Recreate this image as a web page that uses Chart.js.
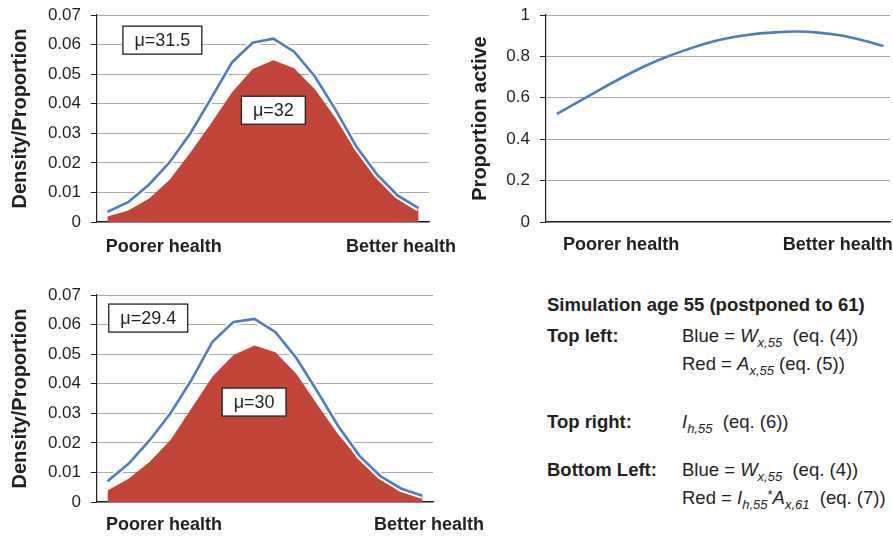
<!DOCTYPE html>
<html>
<head>
<meta charset="utf-8">
<script src="https://cdn.jsdelivr.net/npm/chart.js@4.4.1/dist/chart.umd.min.js"></script>
<style>
  body { margin: 0; background: #fff; width: 893px; height: 537px; position: relative; overflow: hidden;
         font-family: "Liberation Sans", Arial, sans-serif; color: #231f20; }
  canvas { position: absolute; }
  .note { position: absolute; font-size: 18.5px; line-height: 16px; white-space: nowrap; }
  .b { font-weight: bold; }
  .note i { font-style: italic; }
  .note sub { font-size: 13px; font-style: italic; vertical-align: -5px; line-height: 0; }
  .note sup { font-size: 13px; vertical-align: 5px; line-height: 0; }
</style>
</head>
<body>
<canvas id="topLeft" width="460" height="260" style="left:0;top:0"></canvas>
<canvas id="topRight" width="433" height="260" style="left:460px;top:0"></canvas>
<canvas id="bottomLeft" width="500" height="257" style="left:0;top:280px"></canvas>

<div class="note b" style="left:547px;top:297px">Simulation age 55 (postponed to 61)</div>
<div class="note b" style="left:547px;top:328px">Top left:</div>
<div class="note" style="left:682px;top:328px">Blue = <i>W</i><sub>x,55</sub>&nbsp; (eq. (4))</div>
<div class="note" style="left:682px;top:356px">Red = <i>A</i><sub>x,55</sub> (eq. (5))</div>
<div class="note b" style="left:547px;top:414px">Top right:</div>
<div class="note" style="left:682px;top:414px"><i>I</i><sub>h,55</sub>&nbsp; (eq. (6))</div>
<div class="note b" style="left:547px;top:462px">Bottom Left:</div>
<div class="note" style="left:682px;top:462px">Blue = <i>W</i><sub>x,55</sub>&nbsp; (eq. (4))</div>
<div class="note" style="left:682px;top:490px">Red = <i>I</i><sub>h,55</sub><sup>*</sup><i>A</i><sub>x,61</sub>&nbsp; (eq. (7))</div>

<script>
// health bins (poorer -> better)
const bins = [0, 1, 2, 3, 4, 5, 6, 7, 8, 9, 10, 11, 12, 13, 14, 15]
const xEndLabels = ['Poorer health', 'Better health']

// top left: W_x,55 (blue) and A_x,55 (red)
const wTop = [0.0034, 0.0067, 0.0126, 0.0202, 0.0300, 0.0418, 0.0539, 0.0606, 0.0620, 0.0576, 0.0492, 0.0379, 0.0255, 0.0160, 0.0089, 0.0047]
const aTop = [0.0019, 0.0039, 0.0079, 0.0143, 0.0235, 0.0334, 0.0438, 0.0517, 0.0547, 0.0520, 0.0449, 0.0351, 0.0238, 0.0148, 0.0084, 0.0042]

// top right: I_h,55
const iTop = [0.522, 0.582, 0.641, 0.698, 0.751, 0.796, 0.834, 0.867, 0.891, 0.907, 0.916, 0.920, 0.915, 0.902, 0.879, 0.850]

// bottom left: W_x,55 (blue) and I_h,55*A_x,61 (red)
const wBottom = [0.0070, 0.0129, 0.0208, 0.0300, 0.0413, 0.0542, 0.0609, 0.0619, 0.0574, 0.0486, 0.0373, 0.0255, 0.0156, 0.0087, 0.0045, 0.0021]
const aBottom = [0.0039, 0.0079, 0.0135, 0.0210, 0.0317, 0.0424, 0.0497, 0.0529, 0.0506, 0.0433, 0.0328, 0.0227, 0.0143, 0.0084, 0.0045, 0.0019]

const FONT = '"Liberation Sans", Arial, sans-serif'
const INK = '#231f20'
const BLUE = '#4f7bc0'
const RED = '#c2453a'
const GRID = '#a7a9ac'

// white boxes with the mean in them
const muBoxes = {
    id: 'muBoxes',
    afterDatasetsDraw(chart, args, opts) {
        const ctx = chart.ctx
        const x = chart.scales.x, y = chart.scales.y
        ;(opts.boxes || []).forEach(function (b) {
            ctx.save()
            ctx.font = '18px ' + FONT
            const w = ctx.measureText(b.text).width + 23
            const h = 28
            const cx = x.getPixelForValue(b.x)
            const cy = y.getPixelForValue(b.y)
            ctx.fillStyle = '#fff'
            ctx.fillRect(cx - w / 2, cy - h / 2, w, h)
            ctx.strokeStyle = INK
            ctx.lineWidth = 1.3
            ctx.strokeRect(cx - w / 2, cy - h / 2, w, h)
            ctx.fillStyle = INK
            ctx.textAlign = 'center'
            ctx.textBaseline = 'middle'
            ctx.fillText(b.text, cx, cy + 1)
            ctx.restore()
        })
    }
}

function yAxis(max, step, width, title, fmt) {
    return {
        min: 0, max: max,
        ticks: { stepSize: step, color: INK, font: { family: FONT, size: 17 }, padding: 10, callback: fmt },
        grid: { color: GRID, tickColor: INK, tickLength: 6, lineWidth: 1 },
        border: { color: INK, width: 1.2 },
        title: { display: true, text: title, color: INK, font: { family: FONT, size: 20, weight: 'bold' }, padding: { top: 8, bottom: 4 } },
        afterFit: function (s) { s.width = width; s.paddingTop = 0; s.paddingBottom = 0 }
    }
}

function xAxis(max, tickAt, height, pad) {
    return {
        type: 'linear', min: -0.5, max: max,
        grid: { display: false, drawTicks: false },
        border: { color: INK, width: 1.2 },
        ticks: {
            color: INK, font: { family: FONT, size: 18, weight: 'bold' }, padding: pad,
            maxRotation: 0, autoSkip: false,
            callback: function (v, i) { return xEndLabels[i] }
        },
        afterBuildTicks: function (s) { s.ticks = tickAt.map(function (v) { return { value: v } }) },
        afterFit: function (s) { s.height = height; s.paddingLeft = 0; s.paddingRight = 0 }
    }
}

const densFmt = function (v) { return v === 0 ? '0' : v.toFixed(2) }

function densityChart(id, blue, red, boxes, tickAt, xH, pad, padRight) {
    return new Chart(document.getElementById(id), {
        type: 'line',
        data: {
            labels: bins,
            datasets: [
                { data: blue, borderColor: BLUE, borderWidth: 2.6, pointRadius: 0, fill: false, tension: 0 },
                { data: blue, borderColor: '#fff', borderWidth: 6.5, pointRadius: 0, fill: false, tension: 0 },
                { data: red, borderWidth: 0, backgroundColor: RED, borderColor: RED, pointRadius: 0, fill: 'origin', tension: 0 }
            ]
        },
        options: {
            responsive: false, animation: false,
            layout: { padding: { top: 15, right: padRight, left: 0, bottom: 0 } },
            plugins: { legend: { display: false }, tooltip: { enabled: false }, muBoxes: { boxes: boxes } },
            scales: {
                x: xAxis(15.5, tickAt, xH, pad),
                y: yAxis(0.07, 0.01, 97, 'Density/Proportion', densFmt)
            }
        },
        plugins: [muBoxes]
    })
}

densityChart('topLeft', wTop, aTop,
    [{ text: 'μ=31.5', x: 2.65, y: 0.0615 }, { text: 'μ=32', x: 8.0, y: 0.0378 }],
    [2.72, 14.15], 38, 14, 31)

densityChart('bottomLeft', wBottom, aBottom,
    [{ text: 'μ=29.4', x: 1.94, y: 0.0622 }, { text: 'μ=30', x: 6.98, y: 0.0338 }],
    [2.69, 15.31], 35, 12, 67)

new Chart(document.getElementById('topRight'), {
    type: 'line',
    data: {
        labels: bins,
        datasets: [
            { data: iTop, borderColor: BLUE, borderWidth: 2.6, pointRadius: 0, fill: false, cubicInterpolationMode: 'monotone' }
        ]
    },
    options: {
        responsive: false, animation: false,
        layout: { padding: { top: 15, right: 3, left: 0, bottom: 0 } },
        plugins: { legend: { display: false }, tooltip: { enabled: false } },
        scales: {
            x: xAxis(15.3, [2.95, 12.9], 38, 12),
            y: yAxis(1, 0.2, 86, 'Proportion active', function (v) { return String(Math.round(v * 10) / 10) })
        }
    }
})
</script>
</body>
</html>
